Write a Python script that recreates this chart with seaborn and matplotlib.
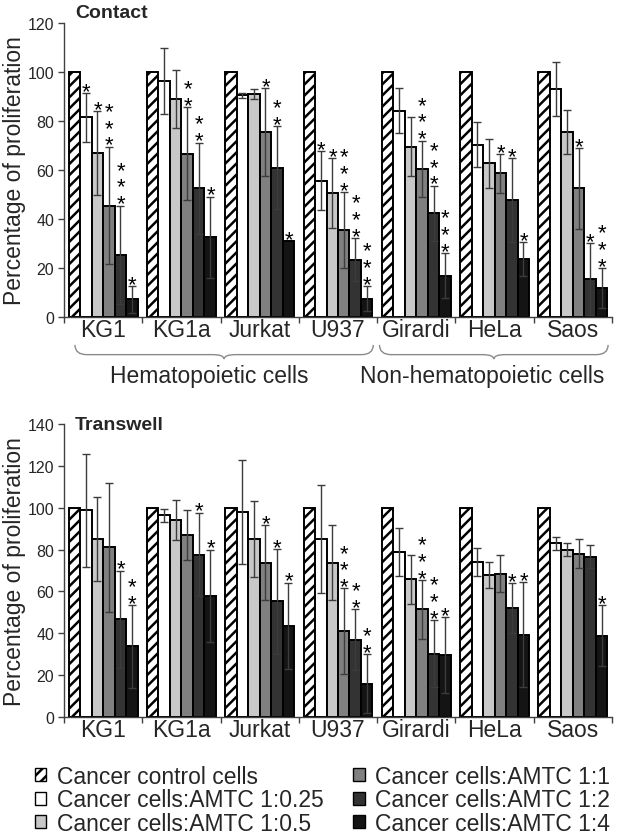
import numpy as np
import pandas as pd
import matplotlib
matplotlib.use("Agg")
import matplotlib.pyplot as plt
import matplotlib.transforms as mtransforms
from matplotlib.patches import Patch, PathPatch
from matplotlib.path import Path
import seaborn as sns

cells = ["KG1", "KG1a", "Jurkat", "U937", "Girardi", "HeLa", "Saos"]
conditions = ["Cancer control cells", "Cancer cells:AMTC 1:0.25", "Cancer cells:AMTC 1:0.5",
              "Cancer cells:AMTC 1:1", "Cancer cells:AMTC 1:2", "Cancer cells:AMTC 1:4"]
colors = ["white", "white", "#c8c8c8", "#808080", "#333333", "#141414"]

# Contact panel (control = 100)
contact_ctrl = [100, 100, 100, 100, 100, 100, 100]
contact_025 = [81.5, 96.3, 90.5, 55.6, 84.2, 70.3, 93.0]
contact_05 = [67.0, 89.0, 91.0, 50.5, 69.5, 62.7, 75.4]
contact_1 = [45.5, 66.7, 75.4, 35.4, 60.4, 58.6, 52.5]
contact_2 = [25.5, 52.5, 61.0, 23.4, 42.4, 47.8, 15.5]
contact_4 = [7.2, 32.5, 31.0, 7.5, 16.9, 23.7, 11.7]
contact_025_err = [10.0, 13.5, 1.0, 12.0, 9.3, 9.2, 11.0]
contact_05_err = [17.0, 12.0, 2.0, 14.3, 12.0, 10.0, 9.0]
contact_1_err = [24.0, 19.0, 18.0, 15.6, 11.6, 8.0, 16.5]
contact_2_err = [20.0, 18.7, 17.0, 8.7, 11.2, 17.0, 14.6]
contact_4_err = [5.5, 16.6, 0.0, 5.2, 9.2, 6.8, 8.2]
contact_025_sig = [1, 0, 0, 1, 0, 0, 0]
contact_05_sig = [1, 0, 0, 1, 0, 0, 0]
contact_1_sig = [3, 2, 1, 3, 3, 1, 1]
contact_2_sig = [3, 2, 2, 3, 3, 1, 1]
contact_4_sig = [1, 1, 1, 3, 3, 1, 3]

# Transwell panel
trans_ctrl = [100, 100, 100, 100, 100, 100, 100]
trans_025 = [98.7, 96.3, 98.0, 85.0, 78.8, 74.0, 83.0]
trans_05 = [85.0, 94.0, 85.0, 73.8, 65.7, 67.7, 80.0]
trans_1 = [81.0, 87.0, 73.8, 41.0, 51.5, 68.5, 78.0]
trans_2 = [46.7, 77.6, 55.3, 36.9, 30.2, 52.0, 76.6]
trans_4 = [33.7, 57.9, 43.5, 16.0, 29.6, 39.3, 38.8]
trans_025_err = [27.0, 3.0, 25.0, 25.8, 11.6, 6.7, 3.2]
trans_05_err = [20.0, 9.5, 18.0, 18.0, 11.8, 6.3, 3.2]
trans_1_err = [30.7, 11.8, 18.0, 20.4, 14.0, 9.0, 7.0]
trans_2_err = [23.2, 20.0, 25.0, 14.5, 16.0, 12.0, 5.6]
trans_4_err = [19.7, 22.0, 20.7, 14.0, 18.0, 25.0, 14.6]
trans_025_sig = [0, 0, 0, 0, 0, 0, 0]
trans_05_sig = [0, 0, 0, 0, 0, 0, 0]
trans_1_sig = [0, 0, 1, 3, 3, 0, 0]
trans_2_sig = [1, 1, 1, 2, 3, 1, 0]
trans_4_sig = [2, 1, 1, 2, 1, 1, 1]

zero = [0.0] * 7
contact_vals = [contact_ctrl, contact_025, contact_05, contact_1, contact_2, contact_4]
contact_errs = [zero, contact_025_err, contact_05_err, contact_1_err, contact_2_err, contact_4_err]
contact_sigs = [[0] * 7, contact_025_sig, contact_05_sig, contact_1_sig, contact_2_sig, contact_4_sig]
trans_vals = [trans_ctrl, trans_025, trans_05, trans_1, trans_2, trans_4]
trans_errs = [zero, trans_025_err, trans_05_err, trans_1_err, trans_2_err, trans_4_err]
trans_sigs = [[0] * 7, trans_025_sig, trans_05_sig, trans_1_sig, trans_2_sig, trans_4_sig]

sns.set_style("ticks")
plt.rcParams["font.family"] = ["Liberation Sans", "DejaVu Sans"]
plt.rcParams["hatch.linewidth"] = 1.8
plt.rcParams["hatch.color"] = "black"

fig = plt.figure(figsize=(6.19, 8.37), dpi=100)
W, H = 619, 837
ax_top = fig.add_axes([64 / W, 1 - 318 / H, 548 / W, 294 / H])
ax_bot = fig.add_axes([64 / W, 1 - 718 / H, 548 / W, 293 / H])


def draw_panel(ax, vals, errs, sigs, ymax, title, title_y):
    rows = []
    for c, cond in enumerate(conditions):
        for g, cell in enumerate(cells):
            rows.append({"cell": cell, "condition": cond, "value": vals[c][g]})
    df = pd.DataFrame(rows)
    sns.barplot(data=df, x="cell", y="value", hue="condition", order=cells,
                hue_order=conditions, palette=colors, saturation=1, width=0.88,
                gap=0, errorbar=None, edgecolor="black", linewidth=1.4,
                legend=False, ax=ax)

    bars = sorted(ax.patches, key=lambda p: p.get_x())
    for i, p in enumerate(bars):
        g, c = divmod(i, 6)
        if c == 0:
            p.set_hatch("///")
        xc = p.get_x() + p.get_width() / 2
        h = p.get_height()
        e = errs[c][g]
        if e > 0:
            ax.errorbar([xc], [h], yerr=[e], fmt="none", ecolor="#3c3c3c",
                        elinewidth=1.0, capsize=2.8, capthick=1.0, zorder=3)
        n = sigs[c][g]
        if n:
            # one stacked label per bar
            ax.annotate("\n".join(["*"] * n), xy=(xc, h + e), xytext=(0.3, -6.4),
                        textcoords="offset points", ha="center", va="bottom",
                        fontsize=16, linespacing=0.74, color="black", zorder=4)

    ax.set_xlim(-0.5, 6.5)
    ax.set_ylim(0, ymax)
    ax.set_yticks(np.arange(0, ymax + 1, 20))
    ax.set_xticks(range(len(cells)))
    ax.set_xticklabels(cells, fontsize=16.5)
    ax.set_xticks(np.arange(-0.5, 7, 1), minor=True)
    ax.tick_params(axis="x", which="major", length=0, pad=1)
    ax.tick_params(axis="x", which="minor", length=4, width=1, direction="out",
                   color="#404040")
    ax.tick_params(axis="y", length=4, width=1, direction="out", labelsize=11.5,
                   color="#404040", pad=3)
    ax.set_xlabel("")
    ax.set_ylabel("Percentage of proliferation", fontsize=16.5, labelpad=1)
    for s in ["left", "bottom"]:
        ax.spines[s].set_color("#404040")
        ax.spines[s].set_linewidth(1.0)
    sns.despine(ax=ax)
    ax.text(0.02, title_y, title, transform=ax.transAxes, fontsize=14,
            fontweight="bold", va="baseline", ha="left")


draw_panel(ax_top, contact_vals, contact_errs, contact_sigs, 120, "Contact", 1.02)
draw_panel(ax_bot, trans_vals, trans_errs, trans_sigs, 140, "Transwell", 0.983)

# group braces under the Contact panel
trans = mtransforms.blended_transform_factory(ax_top.transData, ax_top.transAxes)


def brace(x0, x1, y_top=-0.095, y_mid=-0.128, y_bot=-0.143, r=0.15):
    xc = (x0 + x1) / 2
    verts = [(x0, y_top), (x0, y_mid), (x0 + r, y_mid), (xc - r, y_mid),
             (xc, y_mid), (xc, y_bot), (xc, y_mid), (xc + r, y_mid),
             (x1 - r, y_mid), (x1, y_mid), (x1, y_top)]
    codes = [Path.MOVETO, Path.CURVE3, Path.CURVE3, Path.LINETO,
             Path.CURVE3, Path.CURVE3, Path.CURVE3, Path.CURVE3,
             Path.LINETO, Path.CURVE3, Path.CURVE3]
    patch = PathPatch(Path(verts, codes), facecolor="none", edgecolor="#8a8a8a",
                      linewidth=1.0, transform=trans, clip_on=False)
    ax_top.add_patch(patch)


brace(-0.36, 3.45)
brace(3.53, 6.45)
ax_top.text(1.36, -0.222, "Hematopoietic cells", transform=trans, ha="center",
            va="baseline", fontsize=16.5)
ax_top.text(4.84, -0.222, "Non-hematopoietic cells", transform=trans, ha="center",
            va="baseline", fontsize=16.5)

handles = [Patch(facecolor=col, edgecolor="black", linewidth=1.0,
                 hatch="///" if i == 0 else None) for i, col in enumerate(colors)]
fig.legend(handles, conditions, ncol=2, loc="upper left",
           bbox_to_anchor=(35 / W, 1 - 766 / H), frameon=False, fontsize=16.5,
           handlelength=0.5, handleheight=0.5, handletextpad=0.45,
           columnspacing=1.3, labelspacing=0.02, borderpad=0, borderaxespad=0)

fig.savefig("out.png", dpi=100)
